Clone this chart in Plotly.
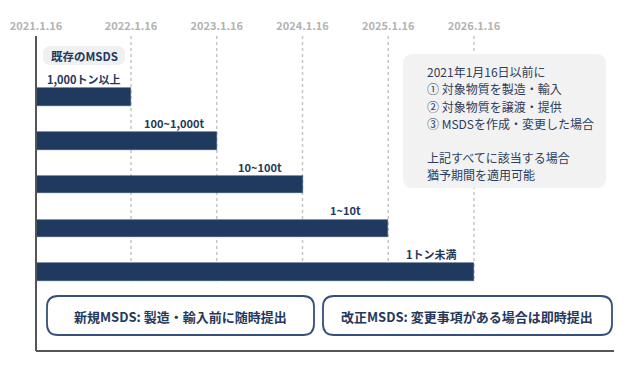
import plotly.graph_objects as go

# ---------------- data ----------------
categories = ["1,000トン以上", "100~1,000t", "10~100t", "1~10t", "1トン未満"]
deadline_year = [2022, 2023, 2024, 2025, 2026]   # 猶予期限 (each 1月16日)
tick_labels = ["2021.1.16", "2022.1.16", "2023.1.16", "2024.1.16", "2025.1.16", "2026.1.16"]
tick_years = [2021, 2022, 2023, 2024, 2025, 2026]
info_lines = ["2021年1月16日以前に", "① 対象物質を製造・輸入", "② 対象物質を譲渡・提供",
              "③ MSDSを作成・変更した場合", "", "上記すべてに該当する場合", "猶予期間を適用可能"]
pill_text = "既存のMSDS"
bottom_texts = ["新規MSDS: 製造・輸入前に随時提出", "改正MSDS: 変更事項がある場合は即時提出"]

# ---------------- style ----------------
OFF = 8                      # page body margin
W, H = 632, 371
ML, MR, MT, MB = 28, 26, 28, 28
PW, PH = W - ML - MR, H - MT - MB
FONT = "Noto Sans CJK JP"
NAVY = "#203a5f"
TXT = "#23395b"

# axis start (left edge) represents 2021.1.16
XMIN = 2022 - 95 / 85.75
XMAX = 2026 + 140 / 85.75
YMIN, YMAX = -1.393, 5.798
tick_pos = [XMIN] + tick_years[1:]


def px(x):
    return (x - OFF - ML) / PW


def py(y):
    return 1 - (y - OFF - MT) / PH


def rrect(x0, y0, x1, y1, r):
    rx, ry = r / PW, r / PH
    a0, a1 = px(x0), px(x1)
    b0, b1 = py(y0), py(y1)  # b0 top, b1 bottom
    return (f"M{a0+rx},{b0} L{a1-rx},{b0} Q{a1},{b0} {a1},{b0-ry} "
            f"L{a1},{b1+ry} Q{a1},{b1} {a1-rx},{b1} L{a0+rx},{b1} "
            f"Q{a0},{b1} {a0},{b1+ry} L{a0},{b0-ry} Q{a0},{b0} {a0+rx},{b0} Z")


rows = list(range(len(categories)))
fig = go.Figure()
fig.add_trace(go.Bar(
    y=rows, x=[d - XMIN for d in deadline_year], base=XMIN, orientation="h",
    width=0.4, marker=dict(color=NAVY, line=dict(color="#3b5479", width=0.6)),
    hoverinfo="skip", showlegend=False,
))

shapes = []
# dotted gridlines
for t in tick_pos[1:]:
    shapes.append(dict(type="line", xref="x", yref="y", x0=t, x1=t, y0=YMIN, y1=rows[-1] + 0.23,
                       line=dict(color="#c6c6c6", width=1.5, dash="dot"), layer="below"))
# axis lines
shapes.append(dict(type="line", xref="paper", yref="paper", x0=0, x1=0, y0=0, y1=1,
                   line=dict(color="#555555", width=2)))
shapes.append(dict(type="line", xref="paper", yref="paper", x0=0, x1=1, y0=0, y1=0,
                   line=dict(color="#555555", width=2)))
# info box
shapes.append(dict(type="path", xref="paper", yref="paper", path=rrect(403, 54, 606, 188, 10),
                   fillcolor="#f2f2f2", line=dict(width=0), layer="above"))
# pill
shapes.append(dict(type="path", xref="paper", yref="paper", path=rrect(43, 46, 125, 65, 8),
                   fillcolor="#f0f0f0", line=dict(width=0)))
# bottom boxes
box_x = [(47, 314), (323, 612)]
for (a, b) in box_x:
    shapes.append(dict(type="path", xref="paper", yref="paper", path=rrect(a, 296, b, 335, 11),
                       fillcolor="white", line=dict(color="#34507a", width=1.8)))

annotations = []
prev = XMIN
for r, c, d in zip(rows, categories, deadline_year):
    annotations.append(dict(x=(prev + d) / 2, y=r, xref="x", yref="y", text=c, showarrow=False,
                            xanchor="center", yanchor="middle", yshift=18,
                            font=dict(family=FONT, size=11, color=TXT, weight="bold")))
    prev = d
annotations.append(dict(x=px(84), y=py(55.5), xref="paper", yref="paper", text=pill_text, showarrow=False,
                        xanchor="center", yanchor="middle",
                        font=dict(family=FONT, size=11.5, color=TXT, weight="bold")))
for i, line in enumerate(info_lines):
    if line:
        annotations.append(dict(x=px(425), y=py(71.7 + i * 17.2), xref="paper", yref="paper", text=line,
                                xanchor="left", yanchor="middle", showarrow=False,
                                font=dict(family=FONT, size=12, color="#2d3d5e")))
for (a, b), t in zip(box_x, bottom_texts):
    annotations.append(dict(x=px((a + b) / 2), y=py(316), xref="paper", yref="paper", text=t,
                            xanchor="center", yanchor="middle", showarrow=False,
                            font=dict(family=FONT, size=13, color="#26385a", weight="bold")))

fig.update_layout(
    template="none",
    width=W, height=H, margin=dict(l=ML, r=MR, t=MT, b=MB, autoexpand=False),
    paper_bgcolor="white", plot_bgcolor="white",
    xaxis=dict(range=[XMIN, XMAX], side="top", tickvals=tick_pos, ticktext=tick_labels,
               showgrid=False, zeroline=False, showline=False, ticks="", automargin=False,
               ticklabelstandoff=3,
               tickfont=dict(family=FONT, size=11, color="#b3b3b3", weight="bold"), fixedrange=True),
    yaxis=dict(range=[YMAX, YMIN], visible=False, fixedrange=True, automargin=False),
    shapes=shapes, annotations=annotations, bargap=0,
)

fig.write_html("out.html")
